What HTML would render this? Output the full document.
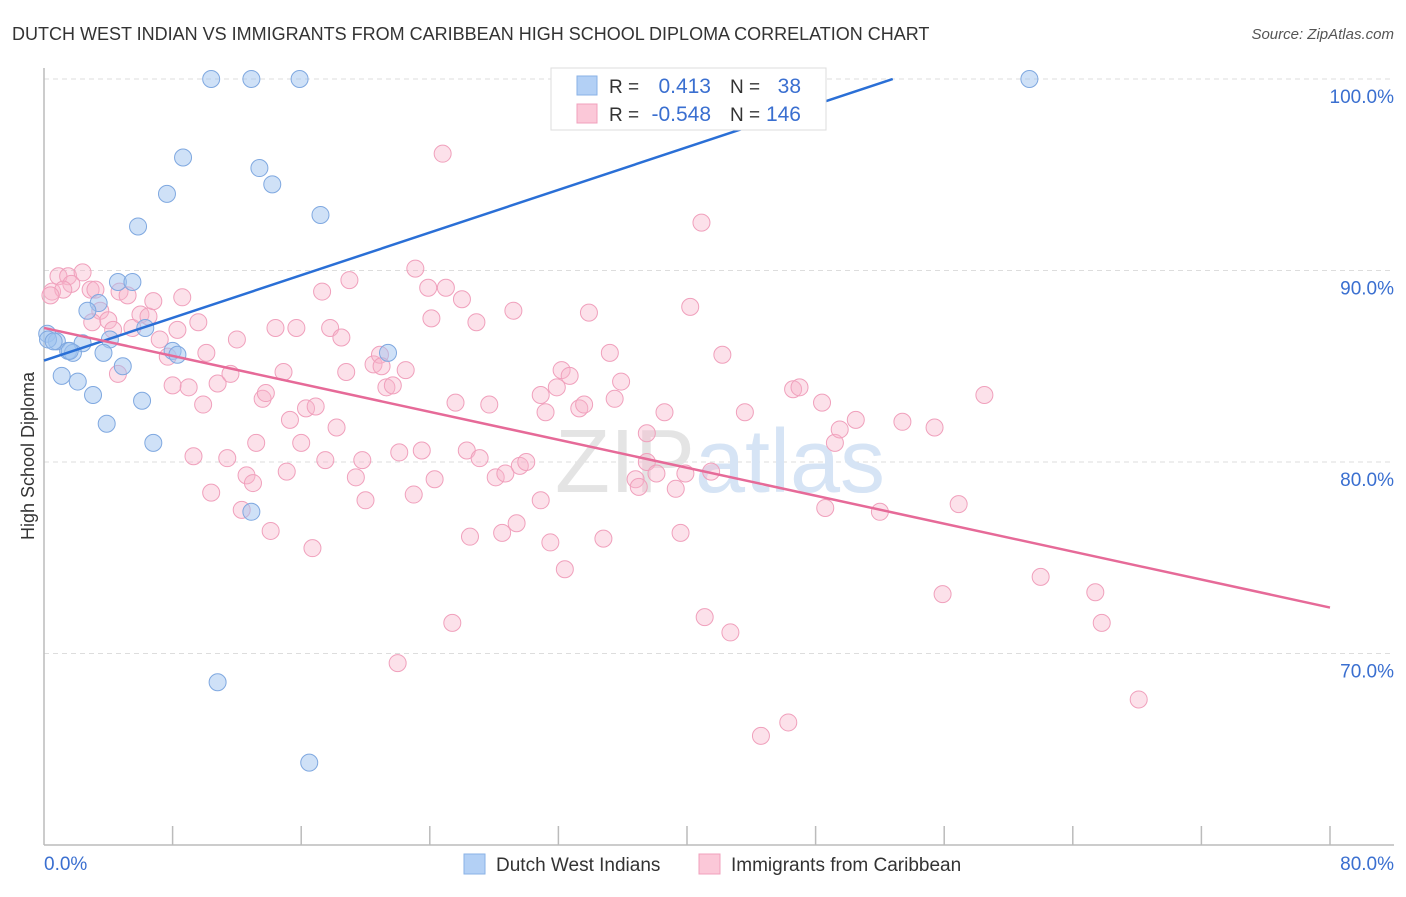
<!DOCTYPE html>
<html><head><meta charset="utf-8"><style>
body{margin:0;background:#fff;font-family:"Liberation Sans",sans-serif}
svg text{font-family:"Liberation Sans",sans-serif}
</style></head><body>
<svg id="chart" width="1406" height="892" xmlns="http://www.w3.org/2000/svg">
<text x="12" y="40" font-size="18" fill="#333">DUTCH WEST INDIAN VS IMMIGRANTS FROM CARIBBEAN HIGH SCHOOL DIPLOMA CORRELATION CHART</text>
<text x="1394" y="39" font-size="15" fill="#555" text-anchor="end" font-style="italic">Source: ZipAtlas.com</text>
<text transform="translate(34,456) rotate(-90)" font-size="18" fill="#333" text-anchor="middle">High School Diploma</text>
<g id="grid"></g>
<text x="720" y="492" font-size="90" text-anchor="middle" fill="#e4e4e4" font-family="Liberation Serif">ZIP<tspan fill="#d6e4f5" font-family="Liberation Sans">atlas</tspan></text>
<g id="points"></g>
<g id="lines"></g>
<g>
<rect x="551" y="68" width="275" height="62" fill="#fff" stroke="#ddd"/>
<rect x="577" y="76" width="20" height="19" fill="#b3d0f5" stroke="#8ab2e6"/>
<rect x="577" y="104" width="20" height="19" fill="#fbc8d8" stroke="#f0a0bc"/>
<text x="609" y="93" font-size="19" fill="#333">R = </text><text x="711" y="93" font-size="21" fill="#3a6fd0" text-anchor="end">0.413</text>
<text x="730" y="93" font-size="19" fill="#333">N = </text><text x="801" y="93" font-size="21" fill="#3a6fd0" text-anchor="end">38</text>
<text x="609" y="121" font-size="19" fill="#333">R = </text><text x="711" y="121" font-size="21" fill="#3a6fd0" text-anchor="end">-0.548</text>
<text x="730" y="121" font-size="19" fill="#333">N = </text><text x="801" y="121" font-size="21" fill="#3a6fd0" text-anchor="end">146</text>
</g>
<g>
<rect x="464" y="854" width="21" height="20" fill="#b3d0f5" stroke="#8ab2e6"/>
<text x="496" y="871" font-size="19" fill="#333">Dutch West Indians</text>
<rect x="699" y="854" width="21" height="20" fill="#fbc8d8" stroke="#f0a0bc"/>
<text x="731" y="871" font-size="19" fill="#333">Immigrants from Caribbean</text>
</g>
<text x="44" y="870" font-size="19" fill="#3a6fd0">0.0%</text>
<text x="1394" y="870" font-size="19" fill="#3a6fd0" text-anchor="end">80.0%</text>
</svg>
<script>
const blueX=[10.4,12.9,15.9,61.3,8.65,7.65,13.4,14.2,17.2,5.85,4.6,5.5,3.4,2.7,0.2,0.8,1.5,2.4,4.1,3.7,1.8,1.1,2.1,3.05,4.9,6.1,3.9,6.8,6.3,8.0,8.3,21.4,12.9,10.8,16.5,0.25,0.6,1.6];
const blueY=[100,100,100,100,95.9,94.0,95.35,94.5,92.9,92.3,89.4,89.4,88.3,87.9,86.7,86.3,85.8,86.2,86.4,85.7,85.7,84.5,84.2,83.5,85.0,83.2,82.0,81.0,87.0,85.8,85.6,85.7,77.4,68.5,64.3,86.4,86.3,85.8];
const pinkX=[24.8,40.9,0.5,0.9,1.5,2.4,2.9,1.7,1.2,3.5,3.0,4.0,4.7,5.2,4.6,5.5,6.0,6.5,6.8,7.2,7.7,8.0,8.3,8.6,9.0,9.3,9.6,9.9,10.1,10.4,10.8,11.4,11.6,12.0,12.3,12.6,13.0,13.2,13.6,13.8,14.1,14.4,14.9,15.1,15.3,15.7,16.0,16.3,16.7,16.9,17.3,17.5,17.8,18.2,18.5,18.8,19.0,19.4,19.8,20.0,20.5,20.9,21.0,21.3,21.7,22.0,22.1,22.5,23.0,23.1,23.5,23.9,24.1,24.3,25.0,25.4,25.6,26.0,26.3,26.5,26.9,27.1,27.7,28.1,28.5,28.7,29.2,29.4,29.6,30.0,30.9,30.9,31.2,31.5,31.9,32.2,32.4,32.7,33.3,33.6,33.9,34.8,35.2,35.5,35.9,36.8,37.0,37.5,37.5,38.1,38.6,39.3,39.6,39.9,40.2,41.1,41.5,42.2,42.7,43.6,44.6,46.3,46.6,47.0,48.4,48.6,49.2,49.5,50.5,52.0,53.4,55.4,55.9,56.9,58.5,62.0,65.4,65.8,68.1,0.4,3.2,4.3];
const pinkY=[96.1,92.5,88.9,89.7,89.7,89.9,89.0,89.3,89.0,87.9,87.3,87.4,88.9,88.7,84.6,87.0,87.7,87.6,88.4,86.4,85.5,84.0,86.9,88.6,83.9,80.3,87.3,83.0,85.7,78.4,84.1,80.2,84.6,86.4,77.5,79.3,78.9,81.0,83.3,83.6,76.4,87.0,84.7,79.5,82.2,87.0,81.0,82.8,75.5,82.9,88.9,80.1,87.0,81.8,86.5,84.7,89.5,79.2,80.1,78.0,85.1,85.6,85.0,83.9,84.0,69.5,80.5,84.8,78.3,90.1,80.6,89.1,87.5,79.1,89.1,71.6,83.1,88.5,80.6,76.1,87.3,80.2,83.0,79.2,76.3,79.4,87.9,76.8,79.8,80.0,83.5,78.0,82.6,75.8,83.9,84.8,74.4,84.5,82.8,83.0,87.8,76.0,85.7,83.3,84.2,79.1,78.7,81.5,80.0,79.4,82.6,78.6,76.3,79.4,88.1,71.9,79.5,85.6,71.1,82.6,65.7,66.4,83.8,83.9,83.1,77.6,81.0,81.7,82.2,77.4,82.1,81.8,73.1,77.8,83.5,74.0,73.2,71.6,67.6,88.7,89.0,86.9];
const blueTrend=[[0,85.3],[52.8,100]];
const pinkTrend=[[0,87.0],[80,72.4]];
const yTicks=[100,90,80,70];
const yTickLabels=["100.0%","90.0%","80.0%","70.0%"];
const xTicks=[8,16,24,32,40,48,56,64,72,80];

const NS="http://www.w3.org/2000/svg";
const sx=v=>44+v*16.075;
const sy=v=>79+(100-v)*19.15;
function mk(tag,attrs,parent){const e=document.createElementNS(NS,tag);for(const k in attrs)e.setAttribute(k,attrs[k]);parent.appendChild(e);return e;}
const grid=document.getElementById('grid');
yTicks.forEach((t,i)=>{
  const l=mk('line',{x1:44,x2:1394,y1:sy(t),y2:sy(t),stroke:'#ddd','stroke-dasharray':'5,4'},grid);
  
  
  const tx=mk('text',{x:1394,y:sy(t)+24,'font-size':19,fill:'#3a6fd0','text-anchor':'end'},grid);
  tx.textContent=yTickLabels[i];
  
  
});
const ax=mk('line',{x1:44,x2:44,y1:68,y2:845,stroke:'#bbb','stroke-width':1.5},grid);


const bx=mk('line',{x1:44,x2:1394,y1:845,y2:845,stroke:'#bbb','stroke-width':1.5},grid);


xTicks.forEach(t=>{
  const l=mk('line',{x1:sx(t),x2:sx(t),y1:826,y2:845,stroke:'#bbb','stroke-width':1.5},grid);
  
  
});
const pts=document.getElementById('points');
pinkX.forEach((x,i)=>{
  const c=mk('circle',{cx:sx(x),cy:sy(pinkY[i]),r:8.5,fill:'rgba(248,180,202,0.4)',stroke:'#f0a0bc','stroke-width':1},pts);
  
  
});
blueX.forEach((x,i)=>{
  const c=mk('circle',{cx:sx(x),cy:sy(blueY[i]),r:8.5,fill:'rgba(160,195,240,0.5)',stroke:'#7fa8e0','stroke-width':1},pts);
  
  
});
const lines=document.getElementById('lines');
const bl=mk('line',{x1:sx(blueTrend[0][0]),y1:sy(blueTrend[0][1]),x2:sx(blueTrend[1][0]),y2:sy(blueTrend[1][1]),stroke:'#2a6fd6','stroke-width':2.5},lines);


const pl=mk('line',{x1:sx(pinkTrend[0][0]),y1:sy(pinkTrend[0][1]),x2:sx(pinkTrend[1][0]),y2:sy(pinkTrend[1][1]),stroke:'#e66a98','stroke-width':2.5},lines);


</script>
</body></html>
